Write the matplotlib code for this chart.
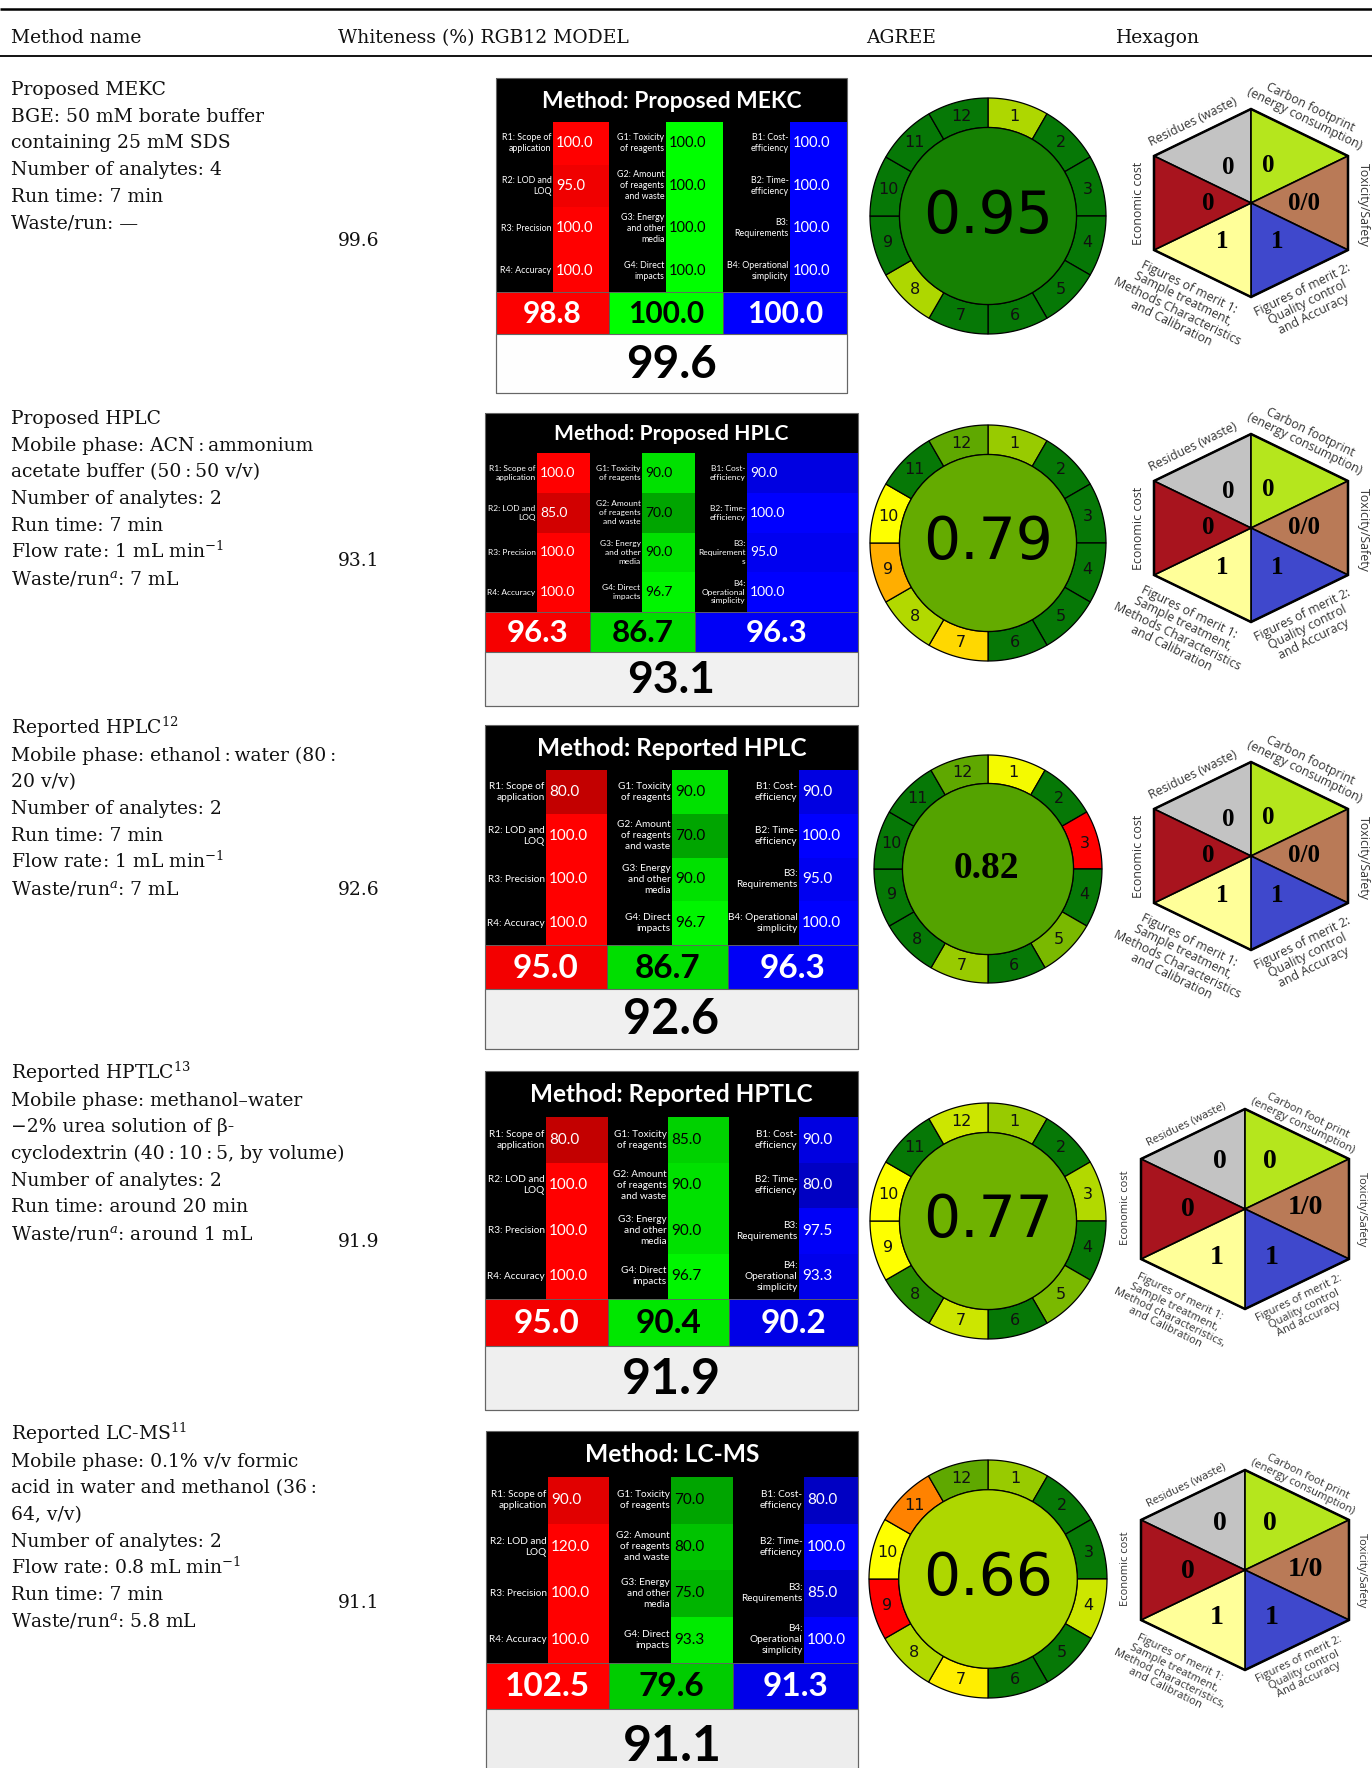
import numpy as np
import matplotlib
matplotlib.use("Agg")
import matplotlib.pyplot as plt
from matplotlib.patches import Rectangle, Polygon, Circle
from matplotlib.colors import LinearSegmentedColormap

plt.rcParams['mathtext.fontset'] = 'dejavuserif'

# ---------------- data ----------------
header_labels = ["Method name", "Whiteness (%) RGB12 MODEL", "AGREE", "Hexagon"]

TS = "\u2009"
method_text = [
    ["Proposed MEKC", "BGE: 50 mM borate buffer", "containing 25 mM SDS",
     "Number of analytes: 4", "Run time: 7 min", "Waste/run: —"],
    ["Proposed HPLC", f"Mobile phase: ACN{TS}:{TS}ammonium", f"acetate buffer (50{TS}:{TS}50 v/v)",
     "Number of analytes: 2", "Run time: 7 min", r"Flow rate: 1 mL min$^{-1}$",
     r"Waste/run$^{a}$: 7 mL"],
    [r"Reported HPLC$^{12}$", f"Mobile phase: ethanol{TS}:{TS}water (80{TS}:", "20 v/v)",
     "Number of analytes: 2", "Run time: 7 min", r"Flow rate: 1 mL min$^{-1}$",
     r"Waste/run$^{a}$: 7 mL"],
    [r"Reported HPTLC$^{13}$", "Mobile phase: methanol–water", "−2% urea solution of β-",
     f"cyclodextrin (40{TS}:{TS}10{TS}:{TS}5, by volume)", "Number of analytes: 2",
     "Run time: around 20 min", r"Waste/run$^{a}$: around 1 mL"],
    [r"Reported LC-MS$^{11}$", "Mobile phase: 0.1% v/v formic",
     f"acid in water and methanol (36{TS}:", "64, v/v)", "Number of analytes: 2",
     r"Flow rate: 0.8 mL min$^{-1}$", "Run time: 7 min", r"Waste/run$^{a}$: 5.8 mL"],
]

whiteness = [99.6, 93.1, 92.6, 91.9, 91.1]
rgb_titles = ["Method: Proposed MEKC", "Method: Proposed HPLC", "Method: Reported HPLC",
              "Method: Reported HPTLC", "Method: LC-MS"]

red_scores = [[100.0, 95.0, 100.0, 100.0], [100.0, 85.0, 100.0, 100.0],
              [80.0, 100.0, 100.0, 100.0], [80.0, 100.0, 100.0, 100.0],
              [90.0, 120.0, 100.0, 100.0]]
green_scores = [[100.0, 100.0, 100.0, 100.0], [90.0, 70.0, 90.0, 96.7],
                [90.0, 70.0, 90.0, 96.7], [85.0, 90.0, 90.0, 96.7],
                [70.0, 80.0, 75.0, 93.3]]
blue_scores = [[100.0, 100.0, 100.0, 100.0], [90.0, 100.0, 95.0, 100.0],
               [90.0, 100.0, 95.0, 100.0], [90.0, 80.0, 97.5, 93.3],
               [80.0, 100.0, 85.0, 100.0]]
red_totals = [98.8, 96.3, 95.0, 95.0, 102.5]
green_totals = [100.0, 86.7, 86.7, 90.4, 79.6]
blue_totals = [100.0, 96.3, 96.3, 90.2, 91.3]

red_labels = ["R1: Scope of\napplication", "R2: LOD and\nLOQ", "R3: Precision", "R4: Accuracy"]
green_labels = ["G1: Toxicity\nof reagents", "G2: Amount\nof reagents\nand waste",
                "G3: Energy\nand other\nmedia", "G4: Direct\nimpacts"]
blue_labels_a = ["B1: Cost-\nefficiency", "B2: Time-\nefficiency", "B3:\nRequirements",
                 "B4: Operational\nsimplicity"]
blue_labels_b = ["B1: Cost-\nefficiency", "B2: Time-\nefficiency", "B3:\nRequirement\ns",
                 "B4:\nOperational\nsimplicity"]
blue_labels_c = ["B1: Cost-\nefficiency", "B2: Time-\nefficiency", "B3:\nRequirements",
                 "B4:\nOperational\nsimplicity"]
blue_labels = [blue_labels_a, blue_labels_b, blue_labels_a, blue_labels_c, blue_labels_c]

agree_scores = [0.95, 0.79, 0.82, 0.77, 0.66]
agree_segments = [
    [0.66, 1.0, 1.0, 1.0, 1.0, 1.0, 1.0, 0.66, 1.0, 1.0, 1.0, 1.0],
    [0.70, 1.0, 1.0, 1.0, 1.0, 1.0, 0.45, 0.65, 0.37, 0.50, 1.0, 0.80],
    [0.52, 1.0, 0.0, 1.0, 0.75, 1.0, 0.70, 1.0, 1.0, 1.0, 1.0, 0.80],
    [0.70, 1.0, 0.65, 1.0, 0.75, 1.0, 0.60, 0.90, 0.50, 0.50, 1.0, 0.60],
    [0.70, 1.0, 1.0, 0.60, 1.0, 1.0, 0.48, 0.65, 0.0, 0.50, 0.28, 0.80],
]

# hexagon sectors: residues, carbon, toxicity, merit 2, merit 1, economic
hex_values = [
    ["0", "0", "0/0", "1", "1", "0"],
    ["0", "0", "0/0", "1", "1", "0"],
    ["0", "0", "0/0", "1", "1", "0"],
    ["0", "0", "1/0", "1", "1", "0"],
    ["0", "0", "1/0", "1", "1", "0"],
]
hex_labels_a = ["Residues (waste)", "Carbon footprint\n(energy consumption)", "Toxicity/Safety",
                "Figures of merit 2:\nQuality control\nand Accuracy",
                "Figures of merit 1:\nSample treatment,\nMethods Characteristics\nand Calibration",
                "Economic cost"]
hex_labels_b = ["Residues (waste)", "Carbon foot print\n(energy consumption)", "Toxicity/Safety",
                "Figures of merit 2:\nQuality control\nAnd accuracy",
                "Figures of merit 1:\nSample treatment,\nMethod characteristics,\nand Calibration",
                "Economic cost"]
hex_labels = [hex_labels_a, hex_labels_a, hex_labels_a, hex_labels_b, hex_labels_b]

# ---------------- layout / style ----------------
W, H = 1372, 1768
SERIF = "DejaVu Serif"
SANS = "Lato"

text_y0 = [88, 417, 727, 1072, 1433]
line_h = 26.7
white_y = [239, 559, 888, 1240, 1601]

rgb_x = [(496, 847), (485, 858), (485, 858), (485, 858), (486, 858)]
rgb_y = [(78, 122, 292, 334, 393), (413, 453, 612, 652, 706), (725, 770, 945, 989, 1049),
         (1071, 1117, 1299, 1346, 1410), (1431, 1477, 1663, 1709, 1782)]
rgb_split = [(553, 609, 666, 723, 790), (537, 590, 642, 695, 747), (546, 607, 672, 728, 799),
             (546, 608, 668, 729, 799), (548, 609, 671, 733, 804)]
title_w = [260, 234, 269, 283, 174]
label_fs = [6.4, 6.0, 7.2, 7.2, 7.2]
value_fs = [10.5, 10.0, 11.0, 11.0, 11.0]
band_fs = [21.5, 22.5, 24.0, 24.0, 24.0]
total_fs = [33, 32, 35, 36, 36]

agree_c = [(988, 216, 118), (988, 543, 118), (988, 869, 114), (988, 1221, 118), (988, 1579, 119)]

hex_geo = [(1251, 203, 94, 97), (1251, 528, 94, 97), (1251, 856, 94, 97),
           (1245, 1209, 100, 104), (1245, 1570, 100, 104)]

agree_cmap = LinearSegmentedColormap.from_list("agree", [
    (0.0, "#ff0000"), (0.3, "#ff8c00"), (0.45, "#ffd700"), (0.5, "#ffff00"),
    (0.6, "#cce600"), (0.7, "#99cc00"), (0.8, "#5fa800"), (0.9, "#288c00"),
    (1.0, "#067806")])

hex_colors = ["#c3c3c3", "#b5e61d", "#b97a57", "#3f48cc", "#ffff99", "#a8141e"]


def shade(channel, v, k):
    s = (255 - (100 - min(v, 100)) * k) / 255.0
    return tuple(s if c == channel else 0.0 for c in range(3))


fig = plt.figure(figsize=(W / 100, H / 100), dpi=100)
ax = fig.add_axes([0, 0, 1, 1])
ax.set_xlim(0, W)
ax.set_ylim(H, 0)
ax.axis("off")

# ---------------- header ----------------
ax.plot([0, W], [9, 9], color="black", lw=1.8, solid_capstyle="butt")
ax.plot([0, W], [56, 56], color="black", lw=1.3, solid_capstyle="butt")
for lab, x in zip(header_labels, [11, 338, 866, 1116]):
    ax.text(x, 43, lab, family=SERIF, fontsize=13.5, ha="left", va="baseline", color="#111111")

# ---------------- left text and whiteness ----------------
for i, lines in enumerate(method_text):
    for j, s in enumerate(lines):
        ax.text(11, text_y0[i] + j * line_h + 7, s, family=SERIF, fontsize=13.5,
                ha="left", va="baseline", color="#111111")
    ax.text(338, white_y[i] + 7, f"{whiteness[i]:.1f}", family=SERIF, fontsize=13.5,
            ha="left", va="baseline", color="#111111")

# ---------------- RGB12 tables ----------------
fig.canvas.draw()
renderer = fig.canvas.get_renderer()

for i in range(5):
    x0, x1 = rgb_x[i]
    y0, yt, yb, yband, ybot = rgb_y[i]
    s0, s1, s2, s3, s4 = rgb_split[i]
    ax.add_patch(Rectangle((x0, y0), x1 - x0, yb - y0, fc="black", ec="none"))
    rh = (yb - yt) / 4.0
    cols = [(0, x0, s0, s1, red_scores[i], red_labels, "white"),
            (1, s1, s2, s3, green_scores[i], green_labels, "black"),
            (2, s3, s4, x1, blue_scores[i], blue_labels[i], "white")]
    for ch, lx, bx0, bx1, scores, labels, tc in cols:
        for r in range(4):
            cy = yt + (r + 0.5) * rh
            ax.add_patch(Rectangle((bx0, yt + r * rh), bx1 - bx0, rh,
                                   fc=shade(ch, scores[r], 3.0), ec="none"))
            ax.text(bx0 - 1.5, cy, labels[r], family=SANS, fontsize=label_fs[i], color="white",
                    ha="right", va="center", multialignment="right", linespacing=1.3)
            ax.text(bx0 + 3, cy, f"{scores[r]:.1f}", family=SANS, fontsize=value_fs[i],
                    color=tc, ha="left", va="center")
    # band
    bands = [(0, x0, s1, red_totals[i], "white"), (1, s1, s3, green_totals[i], "black"),
             (2, s3, x1, blue_totals[i], "white")]
    for ch, bx0, bx1, v, tc in bands:
        ax.add_patch(Rectangle((bx0, yb), bx1 - bx0, yband - yb, fc=shade(ch, v, 2.5),
                               ec="#555555", lw=0.6))
        ax.text((bx0 + bx1) / 2, (yb + yband) / 2 + 1, f"{v:.1f}", family=SANS,
                fontweight="bold", fontsize=band_fs[i], color=tc, ha="center", va="center")
    g = (255 - (100 - whiteness[i]) * 2.0) / 255.0
    ax.add_patch(Rectangle((x0, yband), x1 - x0, ybot - yband, fc=(g, g, g), ec="#666666", lw=0.8))
    ax.text((x0 + x1) / 2, (yband + ybot) / 2 + 1, f"{whiteness[i]:.1f}", family=SANS,
            fontweight="bold", fontsize=total_fs[i], color="black", ha="center", va="center")
    ax.add_patch(Rectangle((x0, y0), x1 - x0, ybot - y0, fc="none", ec="#666666", lw=0.8))
    # title fitted to width
    t = ax.text((x0 + x1) / 2, (y0 + yt) / 2 + 1, rgb_titles[i], family=SANS, fontweight="bold",
                fontsize=16, color="white", ha="center", va="center")
    bw = t.get_window_extent(renderer=renderer).width
    t.set_fontsize(16 * title_w[i] / bw)

# ---------------- AGREE pictograms ----------------
for i in range(5):
    cx, cy, R = agree_c[i]
    rin = 0.75 * R
    segs = np.asarray(agree_segments[i], dtype=float)
    for k in range(12):
        a0 = np.radians(90 - 30 * k)
        a1 = np.radians(90 - 30 * (k + 1))
        th = np.linspace(a0, a1, 40)
        outer = np.column_stack([cx + R * np.cos(th), cy - R * np.sin(th)])
        inner = np.column_stack([cx + rin * np.cos(th[::-1]), cy - rin * np.sin(th[::-1])])
        ax.add_patch(Polygon(np.vstack([outer, inner]), closed=True,
                             fc=agree_cmap(float(segs[k])), ec="black", lw=0.9))
        mid = (a0 + a1) / 2
        rm = (R + rin) / 2
        ax.text(cx + rm * np.cos(mid), cy - rm * np.sin(mid), str(k + 1), family="DejaVu Sans",
                fontsize=11.5, color="#111111", ha="center", va="center")
    ax.add_patch(Circle((cx, cy), rin, fc=agree_cmap(float(agree_scores[i])), ec="black", lw=0.9))
    if i == 2:
        ax.text(cx - 2, cy, f"{agree_scores[i]:.2f}", family="Liberation Serif", fontweight="bold",
                fontsize=27, color="black", ha="center", va="center")
    else:
        ax.text(cx, cy, f"{agree_scores[i]:.2f}", family="DejaVu Sans",
                fontsize=42, color="black", ha="center", va="center")

# ---------------- Hexagons ----------------
num_off_a = [(-23, -36), (17, -38), (53, 0), (26, 39), (-29, 39), (-43, 0)]
num_off_b = [(-25, -47), (25, -47), (60, -1), (27, 48), (-28, 48), (-57, 1)]
lab_off_a = [(-58, -81, 26), (56, -90, -26), (112, 2, -90), (57, 99, 26), (-71, 102, -26),
             (-113, 0, 90)]
lab_off_b = [(-59, -85, 26), (60, -88, -26), (116, 1, -90), (59, 100, 26), (-73, 103, -26),
             (-119, -1, 90)]
for i in range(5):
    cx, cy, r, w = hex_geo[i]
    c = (cx, cy)
    top, ur, lr = (cx, cy - r), (cx + w, cy - r / 2), (cx + w, cy + r / 2)
    bot, ll, ul = (cx, cy + r), (cx - w, cy + r / 2), (cx - w, cy - r / 2)
    pairs = [(ul, top), (top, ur), (ur, lr), (lr, bot), (bot, ll), (ll, ul)]
    for (a, b), col in zip(pairs, hex_colors):
        ax.add_patch(Polygon([c, a, b], closed=True, fc=col, ec="black", lw=1.2))
    ax.add_patch(Polygon([top, ur, lr, bot, ll, ul], closed=True, fc="none", ec="black", lw=1.8))
    small = i < 3
    noff = num_off_a if small else num_off_b
    loff = lab_off_a if small else lab_off_b
    nfs = 18 if small else 20
    lfs = 8.9 if small else 8.0
    for k in range(6):
        ax.text(cx + noff[k][0], cy + noff[k][1], hex_values[i][k], family="Liberation Serif",
                fontweight="bold", fontsize=nfs, color="black", ha="center", va="center")
        dx, dy, rot = loff[k]
        ax.text(cx + dx, cy + dy, hex_labels[i][k], family="Open Sans", fontsize=lfs,
                color="#333333", rotation=rot, rotation_mode="anchor", ha="center",
                va="center", multialignment="center", linespacing=1.05)

fig.savefig("out.png", dpi=100)
